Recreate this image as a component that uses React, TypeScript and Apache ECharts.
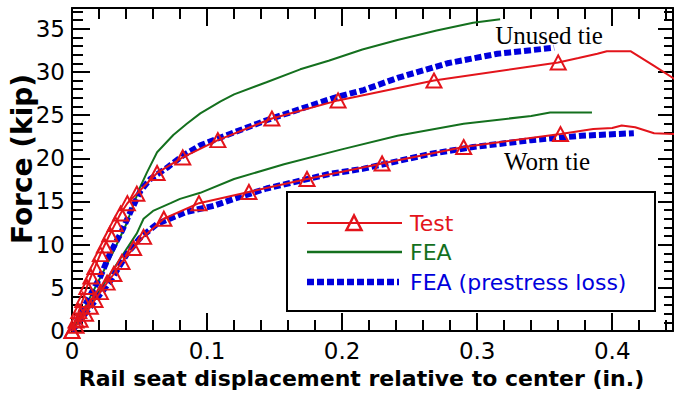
import React, { useEffect, useRef } from 'react';
import * as echarts from 'echarts';

// ---- data (x = rail seat displacement, in.; F = force, kip) ----
const testUnused: [number, number][] = [
  [0.0, 0.0], [0.003, 1.2], [0.005, 2.3], [0.008, 3.6], [0.011, 5.1], [0.014, 6.3],
  [0.017, 7.4], [0.021, 8.9], [0.024, 9.9], [0.028, 11.2], [0.032, 12.4], [0.036, 13.6],
  [0.041, 14.8], [0.048, 15.9], [0.063, 18.3], [0.082, 20.1], [0.108, 22.1], [0.148, 24.6],
  [0.197, 26.7], [0.268, 29.0], [0.36, 31.1],
];
const testUnusedTail: [number, number][] = [
  [0.375, 31.6], [0.389, 32.1], [0.396, 32.4], [0.4135, 32.4], [0.431, 30.7], [0.448, 29.0],
];
const testWorn: [number, number][] = [
  [0.0, 0.0], [0.003, 0.6], [0.006, 1.3], [0.01, 2.0], [0.0136, 2.8], [0.017, 3.6],
  [0.021, 4.5], [0.026, 5.6], [0.031, 6.6], [0.037, 8.0], [0.0456, 9.6], [0.053, 10.9],
  [0.068, 13.0], [0.094, 14.8], [0.131, 16.1], [0.174, 17.6], [0.2296, 19.4], [0.29, 21.3],
  [0.3617, 22.8],
];
const testWornTail: [number, number][] = [
  [0.386, 23.4], [0.4, 23.5], [0.407, 23.8], [0.417, 23.6], [0.431, 22.9], [0.448, 22.8],
];
const feaUnused: [number, number][] = [
  [0, 0], [0.011, 3.2], [0.021, 6.2], [0.03, 9.0], [0.04, 12.3], [0.05, 16.5], [0.0556, 18.4],
  [0.063, 20.7], [0.075, 22.7], [0.085, 24.0], [0.095, 25.2], [0.11, 26.6], [0.12, 27.4],
  [0.144, 28.8], [0.169, 30.3], [0.19, 31.3], [0.215, 32.6], [0.241, 33.7], [0.27, 34.8],
  [0.297, 35.7], [0.317, 36.1],
];
const feaWorn: [number, number][] = [
  [0, 0], [0.01, 2.2], [0.02, 4.6], [0.03, 7.0], [0.04, 9.4], [0.048, 11.3], [0.053, 13.0],
  [0.06, 13.9], [0.073, 14.8], [0.08, 15.3], [0.095, 16.0], [0.12, 17.6], [0.157, 19.3],
  [0.199, 21.0], [0.241, 22.6], [0.29, 24.0], [0.34, 24.9], [0.354, 25.3], [0.385, 25.3],
];
const feaLossUnused: [number, number][] = [
  [0, 0], [0.011, 3.4], [0.021, 6.3], [0.028, 8.9], [0.037, 11.6], [0.043, 13.7], [0.0506, 16.2],
  [0.058, 17.6], [0.0703, 18.9], [0.082, 20.3], [0.095, 21.5], [0.12, 23.0], [0.144, 24.4],
  [0.169, 25.7], [0.194, 27.0], [0.216, 27.9], [0.241, 29.3], [0.278, 31.0], [0.315, 32.1],
  [0.357, 32.8],
];
const feaLossWorn: [number, number][] = [
  [0, 0], [0.0136, 2.8], [0.028, 5.7], [0.041, 9.0], [0.0506, 10.8], [0.063, 12.4], [0.085, 13.8],
  [0.105, 14.5], [0.12, 15.3], [0.144, 16.5], [0.191, 18.2], [0.216, 18.8], [0.265, 20.5],
  [0.297, 21.3], [0.34, 22.1], [0.377, 22.6], [0.416, 22.9],
];
const xTickLabels = [0, 0.1, 0.2, 0.3, 0.4];
const yTickLabels = [0, 5, 10, 15, 20, 25, 30, 35];
const legendNames = ['Test', 'FEA', 'FEA (prestress loss)'];
const annotationTexts = ['Unused tie', 'Worn tie'];
const xTitle = 'Rail seat displacement relative to center (in.)';
const yTitle = 'Force (kip)';

const X_MAX = 0.445;
const Y_MAX = 37.4;
const RED = '#e3141b';
const GREEN = '#14701e';
const BLUE = '#0000dc';
const SANS = 'DejaVu Sans';
const BLUE_DASH = [7, 3];

export default function App() {
  const ref = useRef<HTMLDivElement>(null);
  useEffect(() => {
    if (!ref.current) return;
    const chart = echarts.init(ref.current, undefined, { renderer: 'svg' });
    const blackLine = { color: '#000', width: 2 };
    const isTick = (arr: number[], v: number) => arr.some((t) => Math.abs(t - v) < 1e-9);
    const mkX = (position: string, interval: number, len: number, main: boolean) => ({
      type: 'value', position, min: 0, max: X_MAX, interval,
      axisLine: { show: main, onZero: false, lineStyle: blackLine },
      axisTick: { show: true, inside: true, length: len, lineStyle: blackLine },
      axisLabel: main && position === 'bottom'
        ? {
            show: true, fontFamily: SANS, fontSize: 23, color: '#000', margin: 8,
            formatter: (v: number) => (isTick(xTickLabels, v) ? String(Math.round(v * 10) / 10) : ''),
          }
        : { show: false },
      splitLine: { show: false },
      ...(main && position === 'bottom'
        ? {
            name: xTitle, nameLocation: 'middle', nameGap: 36,
            nameTextStyle: { fontFamily: SANS, fontWeight: 'bold', fontSize: 22, color: '#000', padding: [0, 22, 0, 0] },
          }
        : {}),
    });
    const mkY = (position: string, interval: number, len: number, main: boolean) => ({
      type: 'value', position, min: 0, max: Y_MAX, interval,
      axisLine: { show: main, onZero: false, lineStyle: blackLine },
      axisTick: { show: true, inside: true, length: len, lineStyle: blackLine },
      axisLabel: main && position === 'left'
        ? {
            show: true, fontFamily: SANS, fontSize: 23, color: '#000', margin: 7,
            formatter: (v: number) => (isTick(yTickLabels, v) ? String(Math.round(v)) : ''),
          }
        : { show: false },
      splitLine: { show: false },
    });

    const testSeries = (marked: [number, number][], tail: [number, number][]) => ({
      name: legendNames[0], type: 'line', xAxisIndex: 0, yAxisIndex: 0, clip: false, z: 4,
      symbol: 'triangle', symbolSize: [15, 14],
      itemStyle: { color: 'rgba(255,255,255,0)', borderColor: RED, borderWidth: 2 },
      lineStyle: { color: RED, width: 2 },
      data: [
        ...marked.map((p) => ({ value: p })),
        ...tail.map((p) => ({ value: p, symbol: 'none' })),
      ],
    });
    const feaSeries = (d: [number, number][]) => ({
      name: legendNames[1], type: 'line', xAxisIndex: 0, yAxisIndex: 0, clip: false, z: 2,
      symbol: 'none', itemStyle: { color: GREEN }, lineStyle: { color: GREEN, width: 2 }, data: d,
    });
    const lossSeries = (d: [number, number][]) => ({
      name: legendNames[2], type: 'line', xAxisIndex: 0, yAxisIndex: 0, clip: false, z: 3,
      symbol: 'none', itemStyle: { color: BLUE }, lineStyle: { color: BLUE, width: 6, type: BLUE_DASH }, data: d,
    });

    const legendRow = (i: number, y: number, color: string, lineStyle: any, extra: any[] = []) => [
      { type: 'line', z: 6, shape: { x1: 307, y1: y, x2: i === 2 ? 399 : 402, y2: y }, style: { stroke: color, ...lineStyle } },
      ...extra,
      {
        type: 'text', z: 6, x: 410, y,
        style: { text: legendNames[i], fontFamily: SANS, fontSize: 22, fill: color, align: 'left', verticalAlign: 'middle' },
      },
    ];

    chart.setOption({
      animation: false,
      backgroundColor: '#fff',
      grid: { left: 72, right: 4, top: 8, bottom: 64, containLabel: false, outerBoundsMode: 'none' },
      xAxis: [
        mkX('bottom', 0.1, 18, true),
        mkX('bottom', 0.02, 11, false),
        mkX('top', 0.1, 18, true),
        mkX('top', 0.02, 11, false),
      ],
      yAxis: [
        mkY('left', 5, 18, true),
        mkY('left', 1, 11, false),
        mkY('right', 5, 15, true),
        mkY('right', 1, 9, false),
      ],
      graphic: [
        {
          type: 'text', z: 5, x: 22, y: 159, rotation: Math.PI / 2,
          style: { text: yTitle, fontFamily: SANS, fontWeight: 'bold', fontSize: 28, fill: '#000', align: 'center', verticalAlign: 'middle' },
        },
        {
          type: 'rect', z: 5, shape: { x: 287, y: 192, width: 368, height: 119 },
          style: { fill: '#fff', stroke: '#000', lineWidth: 2 },
        },
        ...legendRow(0, 223, RED, { lineWidth: 2 }, [
          {
            type: 'polygon', z: 7, shape: { points: [[354, 215.5], [346.5, 230], [361.5, 230]] },
            style: { fill: 'none', stroke: RED, lineWidth: 2.5 },
          },
        ]),
        ...legendRow(1, 252, GREEN, { lineWidth: 2.5 }),
        ...legendRow(2, 282, BLUE, { lineWidth: 6.5, lineDash: BLUE_DASH }),
        {
          type: 'text', z: 5, x: 549, y: 35,
          style: { text: annotationTexts[0], fontFamily: 'Liberation Serif', fontSize: 25, fill: '#000', align: 'center', verticalAlign: 'middle' },
        },
        {
          type: 'text', z: 5, x: 547, y: 161,
          style: { text: annotationTexts[1], fontFamily: 'Liberation Serif', fontSize: 25, fill: '#000', align: 'center', verticalAlign: 'middle' },
        },
      ],
      series: [
        feaSeries(feaUnused),
        feaSeries(feaWorn),
        lossSeries(feaLossUnused),
        lossSeries(feaLossWorn),
        testSeries(testUnused, testUnusedTail),
        testSeries(testWorn, testWornTail),
      ],
    });
    return () => chart.dispose();
  }, []);
  return (
    <div
      ref={ref}
      style={{ position: 'fixed', left: 0, top: 0, width: 677, height: 395, background: '#fff' }}
    />
  );
}
